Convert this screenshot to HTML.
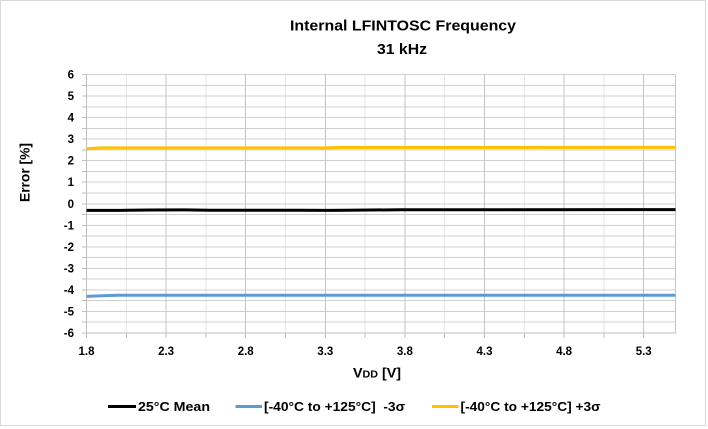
<!DOCTYPE html>
<html><head><meta charset="utf-8"><style>
html,body{margin:0;padding:0;background:#fff;}
svg{display:block;font-family:"Liberation Sans",sans-serif;font-weight:bold;}
</style></head><body>
<svg width="708" height="429" viewBox="0 0 708 429" xmlns="http://www.w3.org/2000/svg">
<rect x="0" y="0" width="708" height="429" fill="#fff"/>
<rect x="0.5" y="0.5" width="705" height="425" fill="#fff" stroke="#d9d9d9"/>
<g shape-rendering="crispEdges" stroke-width="1">
<path stroke="#e6e6e6" d="M126.3 74.5V333M205.9 74.5V333M285.5 74.5V333M365.1 74.5V333M444.7 74.5V333M524.3 74.5V333M603.9 74.5V333"/>
<path stroke="#d0d0d0" d="M86.5 74.5H675.5M86.5 85.5H675.5M86.5 96H675.5M86.5 107H675.5M86.5 117.5H675.5M86.5 128.5H675.5M86.5 139H675.5M86.5 150H675.5M86.5 160.5H675.5M86.5 171.5H675.5M86.5 182H675.5M86.5 193H675.5M86.5 204H675.5M86.5 214.5H675.5M86.5 225.5H675.5M86.5 236H675.5M86.5 247H675.5M86.5 257.5H675.5M86.5 268.5H675.5M86.5 279H675.5M86.5 290H675.5M86.5 300.5H675.5M86.5 311.5H675.5M86.5 322H675.5"/>
<path stroke="#c4c4c4" d="M166.1 74.5V333M245.7 74.5V333M325.3 74.5V333M404.9 74.5V333M484.5 74.5V333M564.1 74.5V333M643.7 74.5V333M675.5 74.5V333"/>
<path stroke="#bfbfbf" d="M86.5 74.5V333M86.5 333H675.5M86.5 333V338M126.3 333V338M166.1 333V338M205.9 333V338M245.7 333V338M285.5 333V338M325.3 333V338M365.1 333V338M404.9 333V338M444.7 333V338M484.5 333V338M524.3 333V338M564.1 333V338M603.9 333V338M643.7 333V338M82 74.5H86.5M82 85.5H86.5M82 96H86.5M82 107H86.5M82 117.5H86.5M82 128.5H86.5M82 139H86.5M82 150H86.5M82 160.5H86.5M82 171.5H86.5M82 182H86.5M82 193H86.5M82 204H86.5M82 214.5H86.5M82 225.5H86.5M82 236H86.5M82 247H86.5M82 257.5H86.5M82 268.5H86.5M82 279H86.5M82 290H86.5M82 300.5H86.5M82 311.5H86.5M82 322H86.5M82 333H86.5"/>
</g>
<polyline fill="none" stroke="#5b9bd5" stroke-width="3" stroke-linejoin="round" points="86.5,296.4 102,295.8 118,295.3 675.5,295.3"/>
<polyline fill="none" stroke="#ffc000" stroke-width="3" stroke-linejoin="round" points="86.5,148.8 100,147.9 325,147.9 340,147.5 675.5,147.4"/>
<polyline fill="none" stroke="#000" stroke-width="3" stroke-linejoin="round" points="86.5,210.4 120,210.4 150,210 185,209.9 210,210.2 300,210.2 330,210.4 345,210.2 400,209.8 675.5,209.6"/>
<g font-size="11.5" text-anchor="end" fill="#000">
<text x="74" y="78.5">6</text><text x="74" y="100">5</text><text x="74" y="121.5">4</text><text x="74" y="143">3</text><text x="74" y="164.5">2</text><text x="74" y="186">1</text><text x="74" y="208">0</text><text x="74" y="229.5">-1</text><text x="74" y="251">-2</text><text x="74" y="272.5">-3</text><text x="74" y="294">-4</text><text x="74" y="315.5">-5</text><text x="74" y="337">-6</text>
</g>
<g font-size="11.5" text-anchor="middle" fill="#000">
<text x="86.5" y="355">1.8</text><text x="166.1" y="355">2.3</text><text x="245.7" y="355">2.8</text><text x="325.3" y="355">3.3</text><text x="404.9" y="355">3.8</text><text x="484.5" y="355">4.3</text><text x="564.1" y="355">4.8</text><text x="643.7" y="355">5.3</text>
</g>
<text x="290" y="30.5" font-size="14.5" textLength="226" lengthAdjust="spacingAndGlyphs">Internal LFINTOSC Frequency</text>
<text x="377" y="54" font-size="14.5" textLength="50" lengthAdjust="spacingAndGlyphs">31 kHz</text>
<text x="353" y="377.5" font-size="14" textLength="48" lengthAdjust="spacingAndGlyphs">V<tspan font-size="10.5">DD</tspan> [V]</text>
<text transform="translate(29.5,202) rotate(-90)" font-size="14" textLength="59" lengthAdjust="spacingAndGlyphs">Error [%]</text>
<line x1="108" y1="406.5" x2="136" y2="406.5" stroke="#000" stroke-width="3"/>
<text x="138" y="411" font-size="13" textLength="72" lengthAdjust="spacingAndGlyphs">25°C Mean</text>
<line x1="235.5" y1="406.5" x2="262" y2="406.5" stroke="#5b9bd5" stroke-width="3"/>
<text x="264" y="411" font-size="13" textLength="141" lengthAdjust="spacingAndGlyphs" xml:space="preserve">[-40°C to +125°C]  -3σ</text>
<line x1="432" y1="406.5" x2="458.5" y2="406.5" stroke="#ffc000" stroke-width="3"/>
<text x="460.5" y="411" font-size="13" textLength="140" lengthAdjust="spacingAndGlyphs">[-40°C to +125°C] +3σ</text>
</svg>
</body></html>
